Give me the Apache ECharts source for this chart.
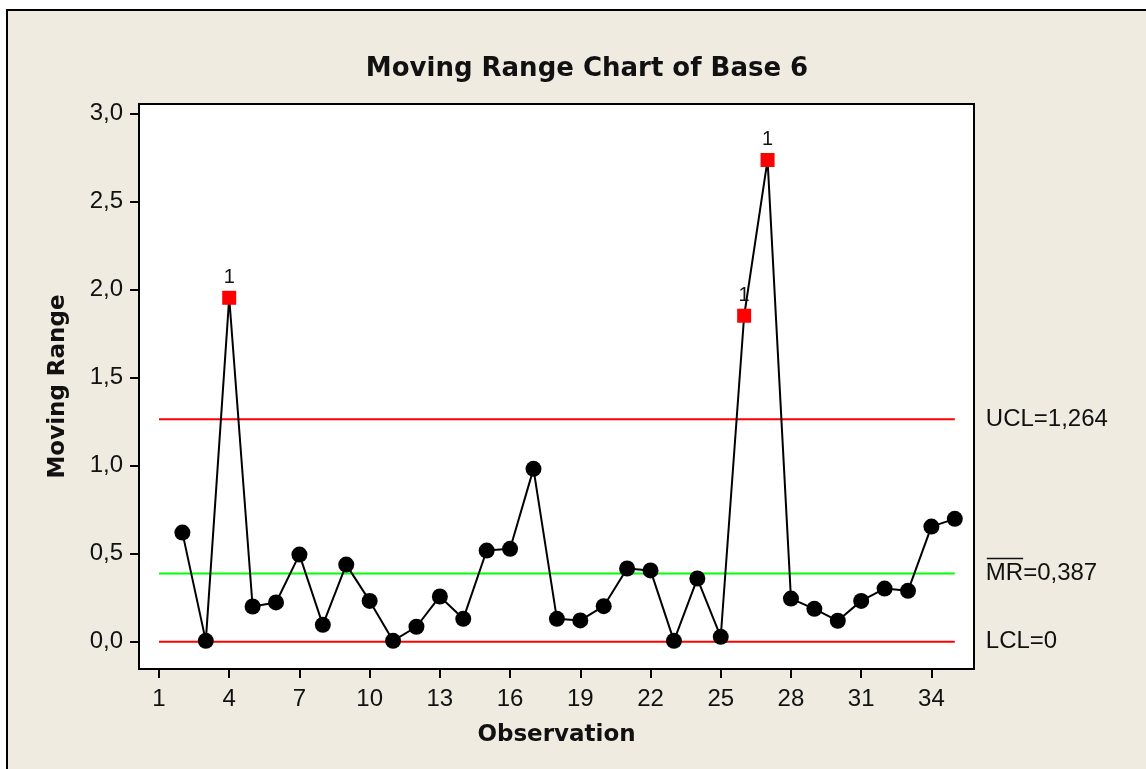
<!DOCTYPE html>
<html>
<head>
<meta charset="utf-8">
<script src="https://cdn.jsdelivr.net/npm/echarts@6/dist/echarts.min.js"></script>
<style>
html, body { margin: 0; padding: 0; background: #ffffff; }
#chart { width: 1146px; height: 769px; }
</style>
</head>
<body>
<div id="chart"></div>
<script>
// ---- data ----
const observations = [2, 3, 4, 5, 6, 7, 8, 9, 10, 11, 12, 13, 14, 15, 16, 17, 18,
  19, 20, 21, 22, 23, 24, 25, 26, 27, 28, 29, 30, 31, 32, 33, 34, 35];
const movingRange = [0.620, 0.005, 1.954, 0.200, 0.223, 0.495, 0.096, 0.438, 0.232, 0.005,
  0.085, 0.257, 0.130, 0.518, 0.528, 0.982, 0.130, 0.121, 0.202, 0.416, 0.405, 0.005,
  0.359, 0.028, 1.852, 2.737, 0.245, 0.187, 0.119, 0.232, 0.302, 0.289, 0.654, 0.698];
const ucl = 1.264;
const centerLine = 0.387;
const lcl = 0;
const uclLabel = 'UCL=1,264';
const mrLabel = 'MR=0,387';
const lclLabel = 'LCL=0';
const xTickValues = [1, 4, 7, 10, 13, 16, 19, 22, 25, 28, 31, 34];
const yTickValues = [0, 0.5, 1.0, 1.5, 2.0, 2.5, 3.0];
const limitSpan = [1, 35];
const testFlag = '1';

// ---- chart ----
const chart = echarts.init(document.getElementById('chart'), null, { renderer: 'canvas' });
const REG = '"Liberation Sans", Arial, sans-serif';
const BOLD = '"DejaVu Sans", Verdana, sans-serif';

const pointData = observations.map((x, i) => {
  const v = movingRange[i];
  if (v > ucl) {
    return {
      value: [x, v],
      symbol: 'rect',
      symbolSize: 14,
      itemStyle: { color: '#ff0000' },
      label: { show: true, formatter: testFlag, position: 'top', distance: 3,
        color: '#111', fontSize: 20, fontFamily: REG }
    };
  }
  return { value: [x, v] };
});

function limitSeries(val, color, text) {
  return {
    type: 'line',
    data: limitSpan.map(x => [x, val]),
    symbol: 'none',
    silent: true,
    z: 1,
    lineStyle: { color: color, width: 2 },
    endLabel: { show: true, formatter: text, distance: 31, color: '#111',
      fontSize: 24, fontFamily: REG }
  };
}

const bgRect = {
  type: 'rect', z: -100, silent: true,
  shape: { x: 7, y: 10, width: 1160, height: 780 },
  style: { fill: '#EFEBE1', stroke: '#000', lineWidth: 2 }
};

const option = {
  animation: false,
  backgroundColor: 'transparent',
  graphic: [bgRect],
  title: {
    text: 'Moving Range Chart of Base 6',
    left: 582, top: 51, textAlign: 'center',
    textStyle: { fontFamily: BOLD, fontWeight: 'bold', fontSize: 26, color: '#111' }
  },
  grid: {
    left: 139, right: 172, top: 104, bottom: 100,
    show: true, backgroundColor: '#ffffff', borderColor: '#000', borderWidth: 2
  },
  xAxis: {
    type: 'value', min: 0.146, max: 35.82,
    name: 'Observation', nameLocation: 'middle', nameGap: 55,
    nameTextStyle: { fontFamily: BOLD, fontWeight: 'bold', fontSize: 23, color: '#111' },
    axisLine: { show: true, onZero: false, lineStyle: { color: '#000', width: 2 } },
    axisTick: { show: true, length: 9, customValues: xTickValues, lineStyle: { color: '#000', width: 2 } },
    axisLabel: { customValues: xTickValues, margin: 18, fontSize: 24, fontFamily: REG, color: '#111',
      formatter: v => String(v) },
    splitLine: { show: false }
  },
  yAxis: {
    type: 'value', min: -0.155, max: 3.055,
    name: 'Moving Range', nameLocation: 'middle', nameGap: 69, nameRotate: 90,
    nameTextStyle: { fontFamily: BOLD, fontWeight: 'bold', fontSize: 23, color: '#111' },
    axisLine: { show: true, onZero: false, lineStyle: { color: '#000', width: 2 } },
    axisTick: { show: true, length: 9, customValues: yTickValues, lineStyle: { color: '#000', width: 2 } },
    axisLabel: { customValues: yTickValues, margin: 16, fontSize: 24, fontFamily: REG, color: '#111',
      formatter: v => v.toFixed(1).replace('.', ',') },
    splitLine: { show: false }
  },
  series: [
    limitSeries(ucl, '#ff0000', uclLabel),
    limitSeries(centerLine, '#00ff00', mrLabel),
    limitSeries(lcl, '#ff0000', lclLabel),
    {
      type: 'line',
      data: pointData,
      z: 3,
      symbol: 'circle',
      symbolSize: 16,
      itemStyle: { color: '#000' },
      lineStyle: { color: '#000', width: 2 }
    }
  ]
};
chart.setOption(option);

// overline above "MR" in the centre-line label
const endPt = chart.convertToPixel({ gridIndex: 0 }, [limitSpan[1], centerLine]);
const ctx = document.createElement('canvas').getContext('2d');
ctx.font = '24px ' + REG;
const mrWidth = ctx.measureText('MR').width;
const x0 = endPt[0] + 31;
chart.setOption({
  graphic: [bgRect, {
    type: 'line', silent: true, z: 10,
    shape: { x1: x0 + 1, y1: endPt[1] - 15, x2: x0 + mrWidth, y2: endPt[1] - 15 },
    style: { stroke: '#111', lineWidth: 1.5 }
  }]
});
</script>
</body>
</html>
